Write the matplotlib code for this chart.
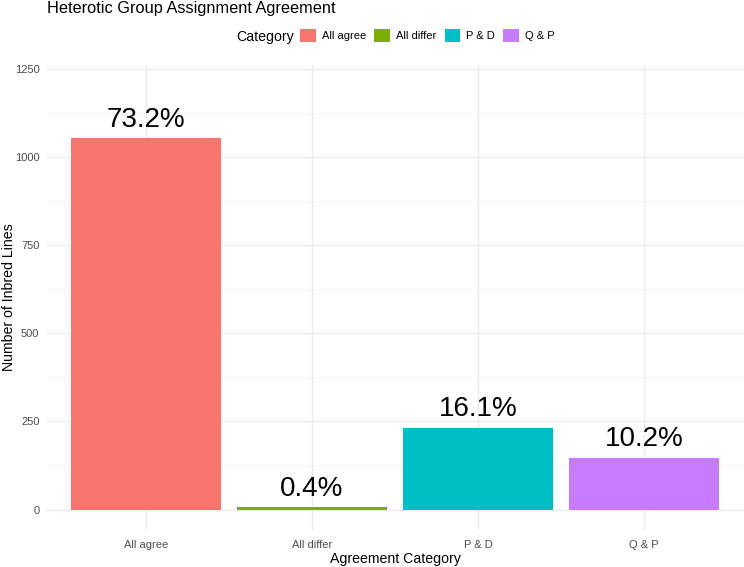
import matplotlib
matplotlib.use("Agg")
import matplotlib.pyplot as plt
from matplotlib.ticker import MultipleLocator

plt.rcParams["font.family"] = ["Liberation Sans", "DejaVu Sans"]

########## Data
categories = ["All agree", "All differ", "P & D", "Q & P"]
counts     = [1053, 6, 232, 147]
pct_labels = ["73.2%", "0.4%", "16.1%", "10.2%"]
colors     = ["#F8766D", "#7CAE00", "#00BFC4", "#C77CFF"]
y_ticks    = [0, 250, 500, 750, 1000, 1250]

########## Figure
fig = plt.figure(figsize=(7.44, 5.67), dpi=100)
fig.set_facecolor("w")
ax = fig.add_axes([46.4/744, 37/567, (743.6-46.4)/744, (530-65)/567])

x = list(range(1, len(categories) + 1))
bars = ax.bar(x, counts, width=0.9, color=colors, zorder=2, label=categories)

for xi, c, lab in zip(x, counts, pct_labels):
    ax.annotate(lab, (xi, c), xytext=(0, 4), textcoords="offset points",
                ha="center", va="bottom", fontsize=20, color="black")

ax.set_xlim(0.4, 4.6)
ax.set_ylim(-58, 1261)
ax.set_xticks(x)
ax.set_xticklabels(categories)
ax.set_yticks(y_ticks)
ax.yaxis.set_minor_locator(MultipleLocator(125))

ax.grid(which="major", color="#EBEBEB", linewidth=1.0, zorder=0)
ax.grid(which="minor", axis="y", color="#F4F4F4", linewidth=0.6, zorder=0)
for s in ax.spines.values():
    s.set_visible(False)
ax.tick_params(which="both", length=0, labelsize=8, labelcolor="#4D4D4D", pad=5)
ax.tick_params(axis="x", pad=7)

ax.set_xlabel("Agreement Category", fontsize=10.2, labelpad=2)
ax.set_ylabel("Number of Inbred Lines", fontsize=10.2)
ax.yaxis.set_label_coords(-30/697, 0.5)

fig.text(47/744, 1 - 13/567, "Heterotic Group Assignment Agreement",
         fontsize=11.8, ha="left", va="baseline")

fig.text(236/744, 1 - 36.5/567, "Category", fontsize=10.2, ha="left", va="center")
fig.legend(bars, categories, loc="center left", bbox_to_anchor=(300/744, 1 - 35.5/567),
           ncol=4, frameon=False, fontsize=8, handlelength=1.4, handleheight=1.4,
           handletextpad=0.55, columnspacing=0.75, borderpad=0, borderaxespad=0)

plt.savefig("out.png", dpi=100, facecolor="w")
